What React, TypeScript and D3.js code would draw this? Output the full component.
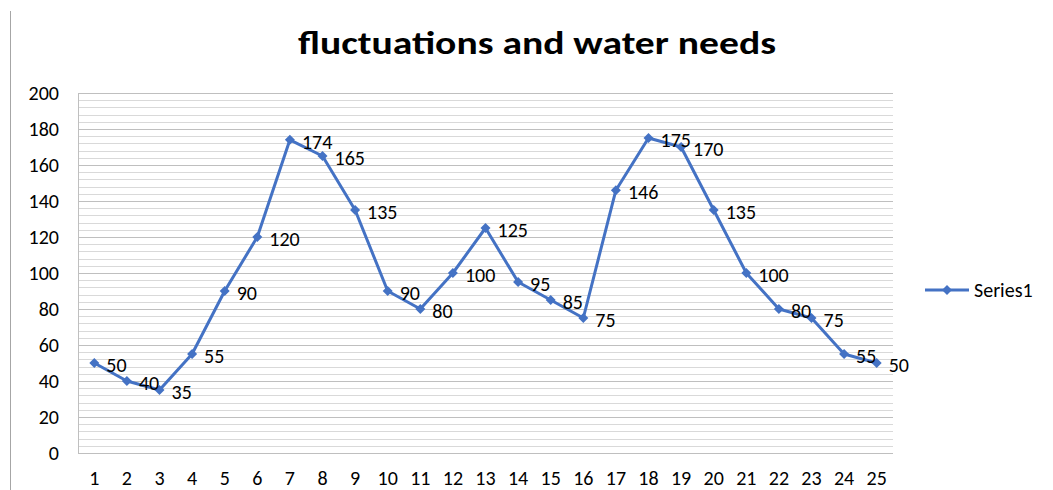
import {useEffect, useRef} from 'react';
import * as d3 from 'd3';

const categories = ['1', '2', '3', '4', '5', '6', '7', '8', '9', '10', '11', '12', '13', '14', '15', '16', '17', '18', '19', '20', '21', '22', '23', '24', '25'];
const series1 = [50, 40, 35, 55, 90, 120, 174, 165, 135, 90, 80, 100, 125, 95, 85, 75, 146, 175, 170, 135, 100, 80, 75, 55, 50];
const yTicks = [0, 20, 40, 60, 80, 100, 120, 140, 160, 180, 200];
const seriesName = 'Series1';
const title = 'fluctuations and water needs';

const width = 1053;
const height = 490;
const font = 'Carlito, Calibri, Lato, "Open Sans", sans-serif';
const blue = '#4472C4';

export default function App() {
  const svgRef = useRef<SVGSVGElement>(null);

  useEffect(() => {
    if (!svgRef.current) return;
    const svg = d3.select(svgRef.current);
    svg.selectAll('*').remove();

    const plot = {left: 78, right: 893, top: 93, bottom: 453};

    const x = d3.scaleBand<string>().domain(categories).range([plot.left, plot.right]).padding(0);
    const y = d3.scaleLinear().domain([0, 200]).range([plot.bottom, plot.top]);
    const cx = (c: string) => (x(c) ?? 0) + x.bandwidth() / 2;

    svg.append('rect').attr('width', width).attr('height', height).attr('fill', '#fff');

    // chart border fragment on the left
    svg
      .append('line')
      .attr('x1', 10.5)
      .attr('x2', 10.5)
      .attr('y1', 11)
      .attr('y2', height)
      .attr('stroke', '#a6a6a6')
      .attr('stroke-width', 1);

    svg
      .append('text')
      .attr('x', 537)
      .attr('y', 54)
      .attr('text-anchor', 'middle')
      .attr('font-family', font)
      .attr('font-weight', 'bold')
      .attr('font-size', 33)
      .attr('textLength', 478)
      .attr('lengthAdjust', 'spacingAndGlyphs')
      .attr('fill', '#000')
      .text(title);

    // minor gridlines
    const minor = d3.range(0, 201, 4).filter((v) => v % 20 !== 0);
    svg
      .append('g')
      .selectAll('line')
      .data(minor)
      .join('line')
      .attr('x1', plot.left)
      .attr('x2', plot.right)
      .attr('y1', (d) => Math.round(y(d)) + 0.5)
      .attr('y2', (d) => Math.round(y(d)) + 0.5)
      .attr('stroke', '#d9d9d9')
      .attr('stroke-width', 1);

    svg
      .append('g')
      .selectAll('line')
      .data(yTicks)
      .join('line')
      .attr('x1', plot.left)
      .attr('x2', plot.right)
      .attr('y1', (d) => Math.round(y(d)) + 0.5)
      .attr('y2', (d) => Math.round(y(d)) + 0.5)
      .attr('stroke', '#bfbfbf')
      .attr('stroke-width', 1);

    svg
      .append('line')
      .attr('x1', plot.left + 0.5)
      .attr('x2', plot.left + 0.5)
      .attr('y1', plot.top)
      .attr('y2', plot.bottom)
      .attr('stroke', '#bfbfbf');

    svg
      .append('g')
      .selectAll('text')
      .data(yTicks)
      .join('text')
      .attr('x', 59)
      .attr('y', (d) => y(d))
      .attr('dy', '0.35em')
      .attr('text-anchor', 'end')
      .attr('font-family', font)
      .attr('font-size', 20)
      .attr('fill', '#000')
      .text((d) => d);

    svg
      .append('g')
      .selectAll('text')
      .data(categories)
      .join('text')
      .attr('x', (d) => cx(d))
      .attr('y', 485)
      .attr('text-anchor', 'middle')
      .attr('font-family', font)
      .attr('font-size', 20)
      .attr('fill', '#000')
      .text((d) => d);

    const pts = categories.map((c, i) => ({c, v: series1[i]}));

    const line = d3
      .line<{c: string; v: number}>()
      .x((d) => cx(d.c))
      .y((d) => y(d.v));

    svg
      .append('path')
      .datum(pts)
      .attr('d', line)
      .attr('fill', 'none')
      .attr('stroke', blue)
      .attr('stroke-width', 3)
      .attr('stroke-linejoin', 'round');

    const diamond = d3.symbol(d3.symbolDiamond2, 64);

    svg
      .append('g')
      .selectAll('path')
      .data(pts)
      .join('path')
      .attr('d', diamond)
      .attr('transform', (d) => `translate(${cx(d.c)},${y(d.v)})`)
      .attr('fill', blue);

    svg
      .append('g')
      .selectAll('text')
      .data(pts)
      .join('text')
      .attr('x', (d) => cx(d.c) + 12)
      .attr('y', (d) => y(d.v) + 2)
      .attr('dy', '0.35em')
      .attr('font-family', font)
      .attr('font-size', 20)
      .attr('fill', '#000')
      .text((d) => d.v);

    // legend
    const lg = svg.append('g').attr('transform', 'translate(925,290)');
    lg.append('line').attr('x1', 0).attr('x2', 44).attr('stroke', blue).attr('stroke-width', 3);
    lg.append('path').attr('d', diamond).attr('transform', 'translate(22,0)').attr('fill', blue);
    lg
      .append('text')
      .attr('x', 49)
      .attr('y', 0)
      .attr('dy', '0.35em')
      .attr('font-family', font)
      .attr('font-size', 20)
      .attr('fill', '#000')
      .text(seriesName);
  }, []);

  return <svg ref={svgRef} width={width} height={height} style={{position: 'absolute', left: 0, top: 0}} />;
}
